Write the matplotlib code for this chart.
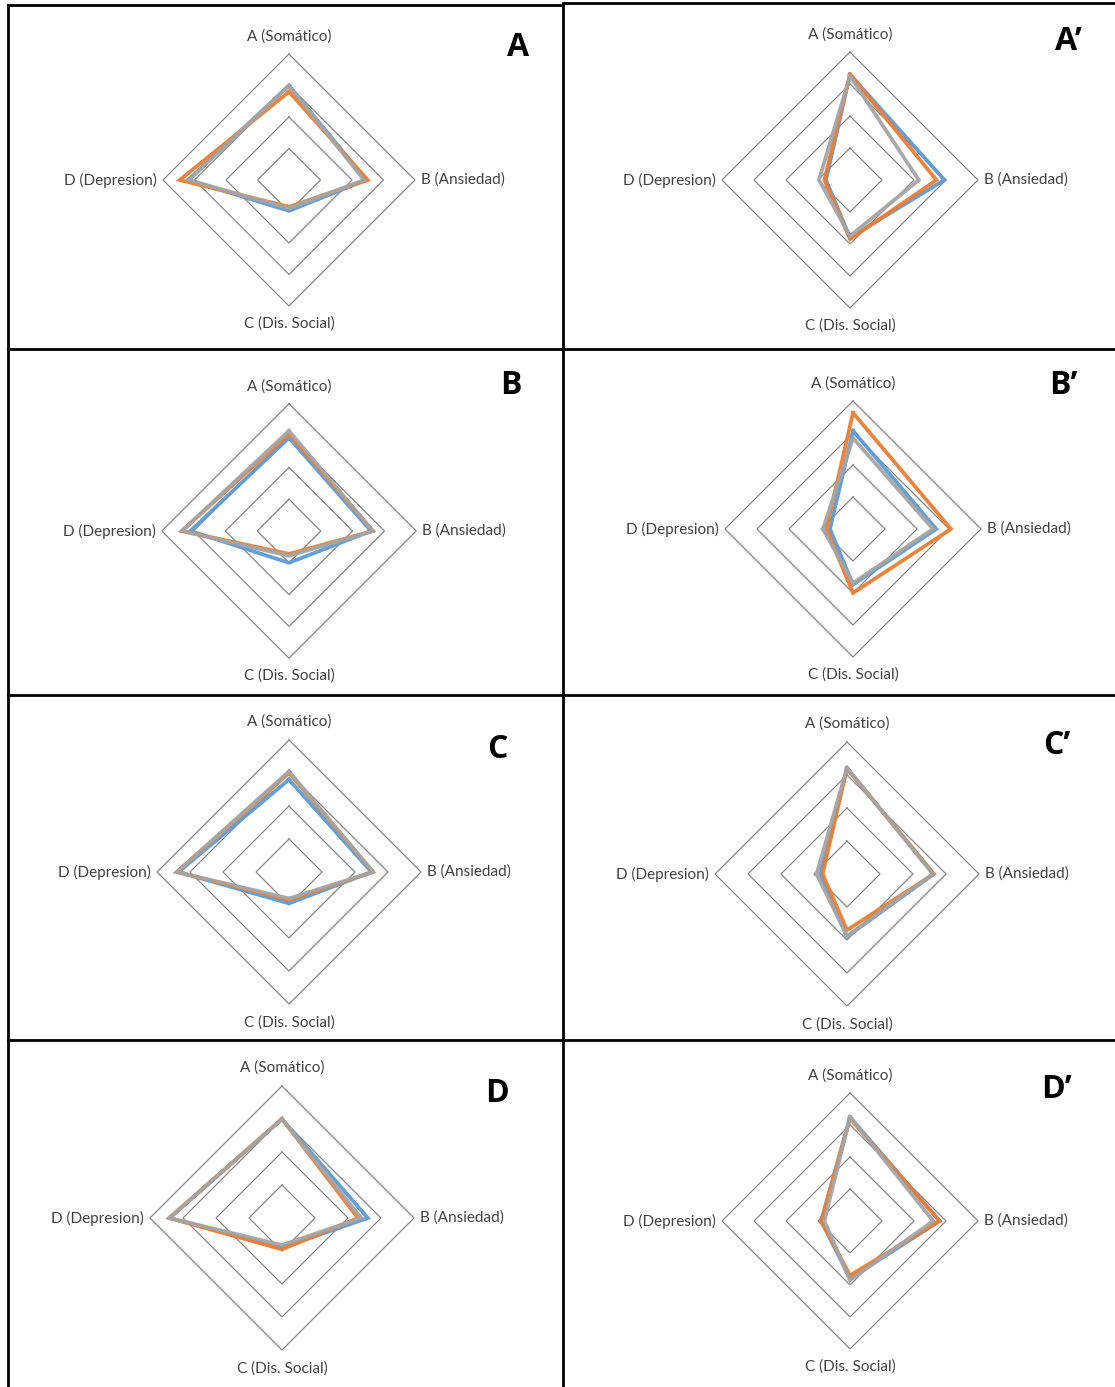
import numpy as np
import matplotlib
matplotlib.use("Agg")
import matplotlib.pyplot as plt
from matplotlib.lines import Line2D

plt.rcParams['font.family'] = ['Lato', 'DejaVu Sans']

# ---- data ----
axis_labels = ["A (Somático)", "B (Ansiedad)", "C (Dis. Social)", "D (Depresion)"]
panel_names = ["A", "A\u2019", "B", "B\u2019", "C", "C\u2019", "D", "D\u2019"]
series_colors = ["#5B9BD5", "#ED7D31", "#A5A5A5"]  # blue, orange, gray
ring_levels = [1, 2, 3, 4]

blue_vals = [
    [3.00, 2.45, 0.98, 3.20],
    [3.30, 2.95, 1.80, 0.75],
    [2.93, 2.58, 1.00, 3.10],
    [3.07, 2.60, 1.74, 0.72],
    [2.80, 2.50, 0.95, 3.35],
    [3.20, 2.63, 1.90, 0.80],
    [3.00, 2.60, 0.90, 3.40],
    [3.25, 2.80, 1.80, 0.90],
]
orange_vals = [
    [2.80, 2.50, 0.85, 3.47],
    [3.30, 2.70, 1.85, 0.80],
    [3.05, 2.64, 0.72, 3.37],
    [3.63, 3.06, 2.00, 0.83],
    [3.00, 2.55, 0.85, 3.40],
    [3.20, 2.63, 1.70, 0.74],
    [3.00, 2.30, 0.95, 3.42],
    [3.20, 2.80, 1.70, 0.90],
]
gray_vals = [
    [3.00, 2.38, 0.90, 3.18],
    [3.25, 2.15, 1.75, 0.97],
    [3.15, 2.64, 0.78, 3.37],
    [2.84, 2.50, 1.69, 0.94],
    [3.05, 2.55, 0.80, 3.40],
    [3.22, 2.60, 1.88, 0.92],
    [3.00, 2.40, 0.82, 3.42],
    [3.25, 2.60, 1.85, 0.80],
]

# ---- layout (pixels) ----
W, H = 1115, 1387
centers = [(289, 180), (850, 180), (289, 531), (853, 529),
           (289, 872), (847, 874), (282, 1218), (850, 1221)]
spacing = [31.5, 32, 31.8, 32, 33, 33, 33, 32]
letter_pos = [(518, 47), (1068, 42), (511, 386), (1063, 386),
              (497, 750), (1057, 745), (497, 1093), (1057, 1090)]

fig = plt.figure(figsize=(W / 100, H / 100), dpi=100)
fig.patch.set_facecolor("white")

angles = np.array([0, 90, 180, 270]) * np.pi / 180.0  # clockwise from top
L = 4.3

for i in range(8):
    cx, cy = centers[i]
    s = spacing[i]
    ax = fig.add_axes([(cx - L * s) / W, 1 - (cy + L * s) / H, 2 * L * s / W, 2 * L * s / H])
    ax.set_xlim(-L, L)
    ax.set_ylim(-L, L)
    ax.set_aspect("equal")
    ax.axis("off")

    aa = np.append(angles, angles[0])
    # grid rings
    for r in ring_levels:
        rr = np.full(5, r)
        ax.plot(rr * np.sin(aa), rr * np.cos(aa), color="#858585", lw=0.9, zorder=1,
                solid_joinstyle="miter")

    # series
    for vals, col in zip([blue_vals[i], orange_vals[i], gray_vals[i]], series_colors):
        v = np.append(np.array(vals), vals[0])
        ax.plot(v * np.sin(aa), v * np.cos(aa), color=col, lw=2.7, zorder=3,
                solid_joinstyle="miter", alpha=0.95)

    # axis labels
    fs = 11
    ax.text(0, 4.55, axis_labels[0], ha="center", va="center", fontsize=fs, color="#404040", clip_on=False)
    ax.text(4.18, 0, axis_labels[1], ha="left", va="center", fontsize=fs, color="#404040", clip_on=False)
    ax.text(0, -4.55, axis_labels[2], ha="center", va="center", fontsize=fs, color="#404040", clip_on=False)
    ax.text(-4.18, 0, axis_labels[3], ha="right", va="center", fontsize=fs, color="#404040", clip_on=False)

    lx, ly = letter_pos[i]
    fig.text(lx / W, 1 - ly / H, panel_names[i], ha="center", va="center",
             fontsize=23, fontweight="bold", color="black", family=["Open Sans", "DejaVu Sans"])

# ---- panel borders ----
def fline(x0, y0, x1, y1, lw=2.0):
    fig.add_artist(Line2D([x0 / W, x1 / W], [1 - y0 / H, 1 - y1 / H], color="black", lw=lw))

fline(8, 5, 8, H)          # left border
fline(8, 5, 563, 5)        # top border left
fline(563, 3, W, 3)        # top border right
fline(563, 3, 563, H)      # middle divider
for yy in [349, 695, 1040]:
    fline(8, yy, W, yy)

fig.savefig("out.png", dpi=100, facecolor="white")
